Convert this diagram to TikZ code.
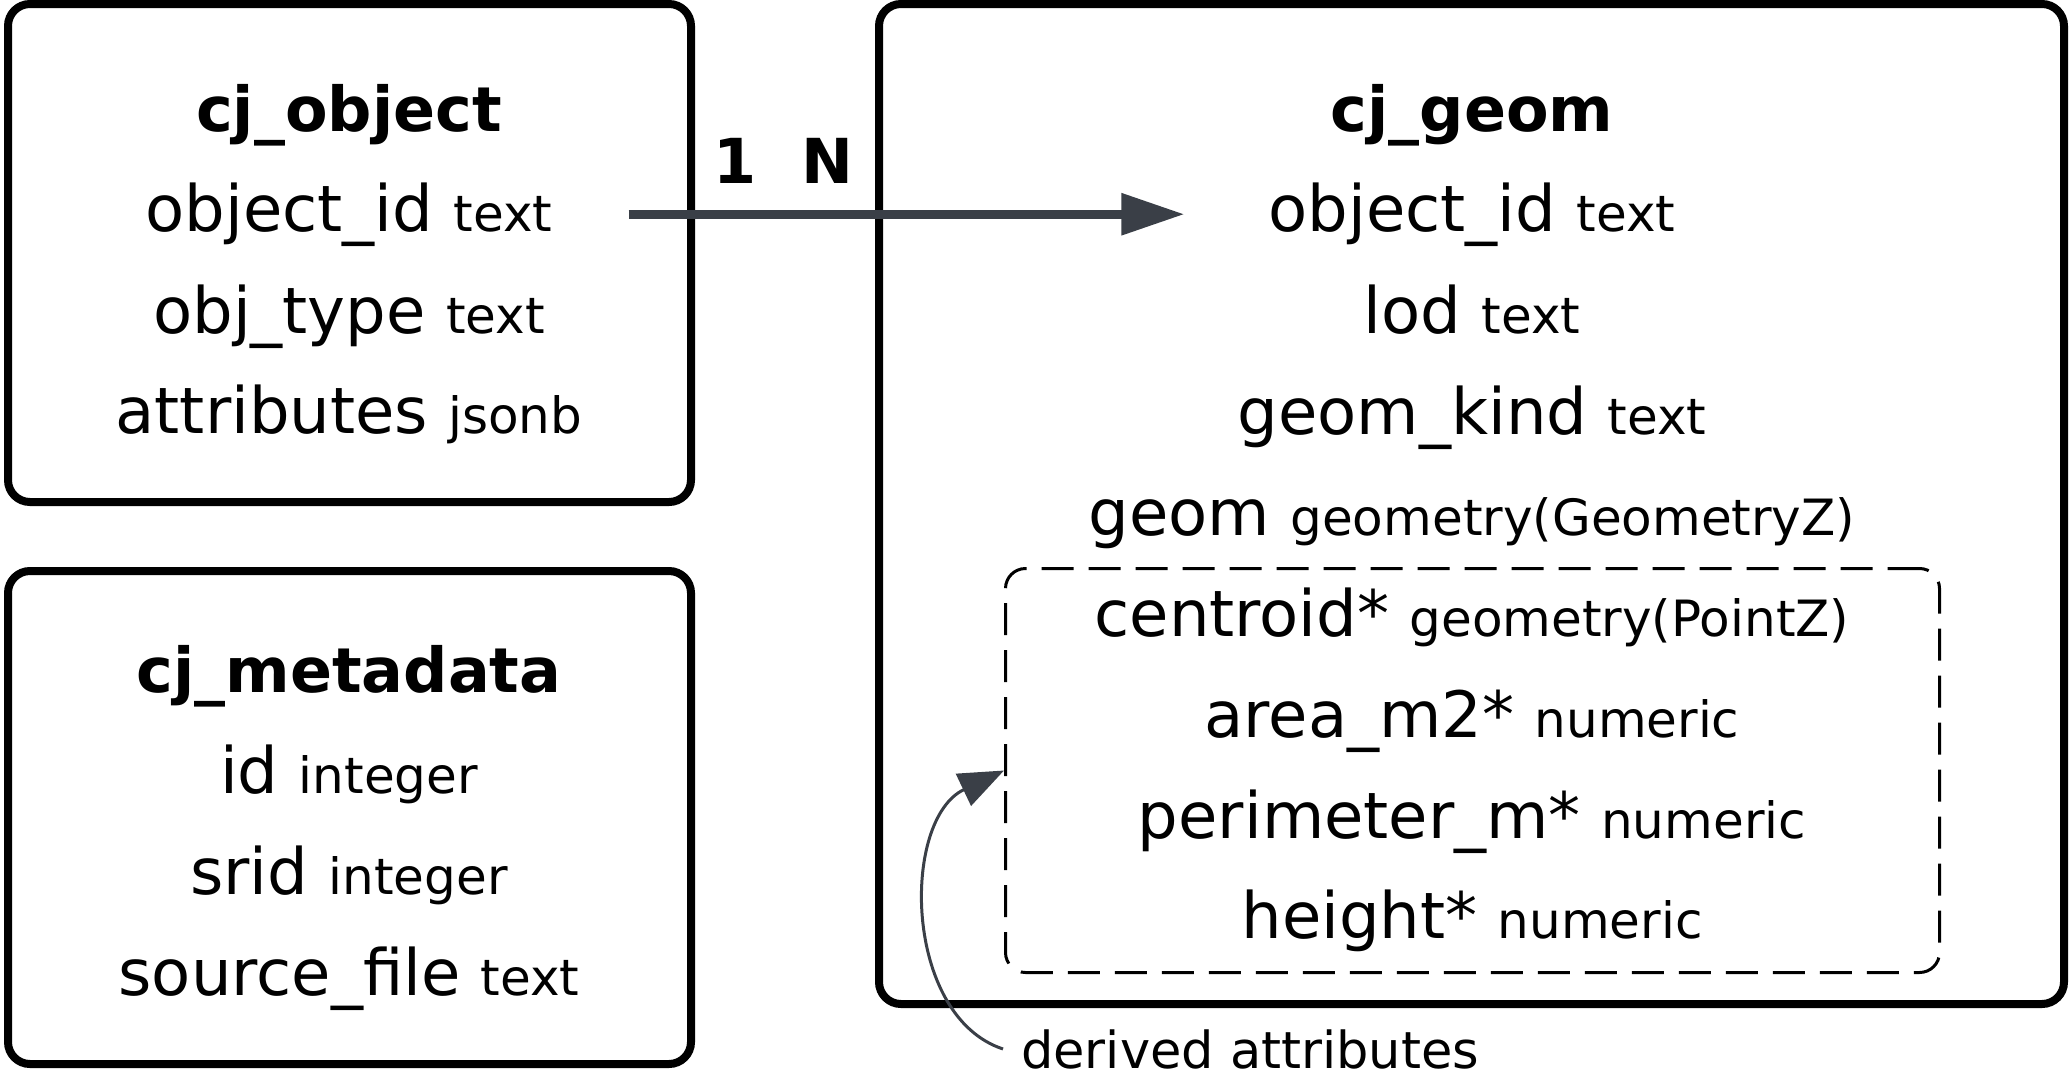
\documentclass[tikz,border=0pt]{standalone}
\usepackage{fontspec}
\setmainfont{DejaVu Sans}
\usetikzlibrary{arrows.meta}
\definecolor{arrowc}{HTML}{3A3F47}
\newcommand\fieldrow[2]{{\fontsize{64}{70}\selectfont #1 }{\fontsize{50}{60}\selectfont #2}}
\newcommand\tabtitle[1]{{\fontsize{62}{70}\selectfont\bfseries #1}}
\begin{document}
\begin{tikzpicture}[x=1pt,y=-1pt,
  tbl/.style={draw=black, line width=8pt, rounded corners=22pt, inner sep=0pt},
  derivedbox/.style={draw=black, line width=3pt, rounded corners=20pt, inner sep=0pt, dash pattern=on 32pt off 15pt},
  fld/.style={anchor=base, inner sep=0pt},
  card/.style={anchor=base, inner sep=0pt, font=\fontsize{62}{70}\selectfont\bfseries},
  rel/.style={draw=arrowc, line width=9pt, -{Triangle[length=63pt,width=40pt]}},
  note/.style={draw=arrowc, line width=3pt, -{Triangle[length=45pt,width=35pt]}}]
\useasboundingbox (0,0) rectangle (2072,1076);

% boxes
\node[tbl, minimum width=683pt, minimum height=498pt] (objbox) at (349.5,253) {};
\node[tbl, minimum width=683pt, minimum height=493pt] (metabox) at (349.5,817.5) {};
\node[tbl, minimum width=1185pt, minimum height=1000pt] (geombox) at (1471.5,504) {};
\node[derivedbox, minimum width=934pt, minimum height=404pt] (dbox) at (1472.5,770.5) {};

% cj_object
\node[fld] (tobj) at (349,131) {\tabtitle{cj\_object}};
\node[fld] (oidA) at (349,231) {\fieldrow{object\_id}{text}};
\node[fld] (otype) at (349,333) {\fieldrow{obj\_type}{text}};
\node[fld] (oattr) at (349,433) {\fieldrow{attributes}{jsonb}};

% cj_metadata
\node[fld] (tmeta) at (349,692) {\tabtitle{cj\_metadata}};
\node[fld] (mid) at (349,793) {\fieldrow{id}{integer}};
\node[fld] (msrid) at (349,894) {\fieldrow{srid}{integer}};
\node[fld] (msrc) at (349,995) {\fieldrow{source\_file}{text}};

% cj_geom
\node[fld] (tgeom) at (1472,131) {\tabtitle{cj\_geom}};
\node[fld] (oidB) at (1472,231) {\fieldrow{object\_id}{text}};
\node[fld] (glod) at (1472,333) {\fieldrow{lod}{text}};
\node[fld] (gkind) at (1472,434) {\fieldrow{geom\_kind}{text}};
\node[fld] (ggeom) at (1472,535) {\fieldrow{geom}{geometry(GeometryZ)}};
\node[fld] (gcent) at (1472,636) {\fieldrow{centroid*}{geometry(PointZ)}};
\node[fld] (garea) at (1472,737) {\fieldrow{area\_m2*}{numeric}};
\node[fld] (gperi) at (1472,838) {\fieldrow{perimeter\_m*}{numeric}};
\node[fld] (ghgt) at (1472,938) {\fieldrow{height*}{numeric}};

% relation
\draw[rel] ([xshift=76pt]oidA.east) -- ([xshift=-84pt]oidB.west);
\node[card] (c1) at (735,183) {1};
\node[card] (cn) at (827,183) {N};

% derived note
\node[anchor=base west, inner sep=0pt, font=\fontsize{51}{60}\selectfont] (derived) at (1021,1068) {derived attributes};
\draw[note] ([xshift=-18pt]derived.west) .. controls +(-100,-33) and +(-103,49) .. (dbox.west);
\end{tikzpicture}
\end{document}
